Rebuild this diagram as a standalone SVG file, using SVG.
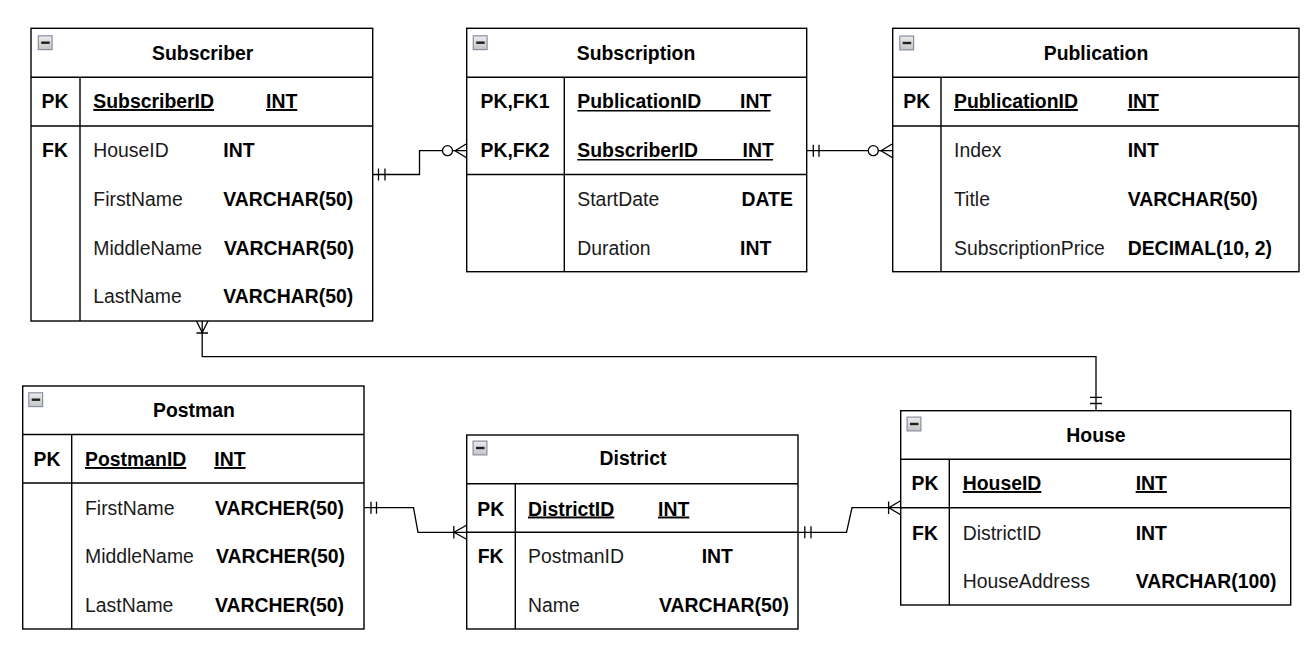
<svg xmlns="http://www.w3.org/2000/svg" width="1308" height="657" viewBox="0 0 1308 657">
<style>
.box{fill:#fff;stroke:#000;stroke-width:1.4}
.ln{stroke:#000;stroke-width:1.4;fill:none}
.cn{stroke:#000;stroke-width:1.3;fill:none}
.t{font-family:"Liberation Sans",Arial,sans-serif;font-size:19.4px;fill:#000}
.n{fill:#1a1a1a}
.b{font-weight:bold}
.m{text-anchor:middle}
.u{text-decoration:underline}
</style>
<defs>
<linearGradient id="ig" x1="0" y1="0" x2="0" y2="1">
<stop offset="0" stop-color="#ececec"/>
<stop offset="1" stop-color="#c4c4c4"/>
</linearGradient>
<g id="minus">
<rect x="0.6" y="0.6" width="13.8" height="13.8" fill="url(#ig)" stroke="#8790a3" stroke-width="1.2"/>
<rect x="3.5" y="6.3" width="8.5" height="2.4" fill="#1f1f1f"/>
</g>
</defs>

<g id="connectors">
<!-- Subscriber -> Subscription -->
<path class="cn" d="M372.7,174.5 H419.5 V150.7 H467"/>
<path class="cn" d="M378.5,168.5 V180.5 M385,168.5 V180.5"/>
<circle class="cn" cx="447.5" cy="150.7" r="5" style="fill:#fff"/>
<path class="cn" d="M467,143.5 L455,150.7 L467,158"/>
<!-- Subscription -> Publication -->
<path class="cn" d="M806.7,150.7 H893"/>
<path class="cn" d="M813.3,144.7 V156.7 M819,144.7 V156.7"/>
<circle class="cn" cx="873.3" cy="150.7" r="5" style="fill:#fff"/>
<path class="cn" d="M893,143.5 L881,150.7 L893,158"/>
<!-- House -> Subscriber -->
<path class="cn" d="M202.2,321 V356.7 H1096 V410.7"/>
<path class="cn" d="M196.5,321 L202.2,332.5 L208,321 M196.5,333 H208"/>
<path class="cn" d="M1090,397.3 H1102 M1090,403.5 H1102"/>
<!-- Postman -> District -->
<path class="cn" d="M364,507.7 H413.5 L418,532.3 H467"/>
<path class="cn" d="M371,501.7 V513.7 M376.5,501.7 V513.7"/>
<path class="cn" d="M453.8,526 V538.5 M467,525 L454,532.3 L467,539.5"/>
<!-- District -> House -->
<path class="cn" d="M798,532.3 H846.5 L852,507.7 H901"/>
<path class="cn" d="M804.8,526.3 V538.3 M811,526.3 V538.3"/>
<path class="cn" d="M888.6,501.5 V514 M901,500.5 L888.8,507.7 L901,515"/>
</g>

<g id="subscriber">
<rect class="box" x="31" y="28.3" width="341.7" height="292.7"/>
<path class="ln" d="M31,77.3 H372.7 M31,126 H372.7 M80,77.3 V321"/>
<use href="#minus" x="37.7" y="35.2"/>
<text class="t b m" x="202.7" y="60">Subscriber</text>
<text class="t b m" x="55" y="108">PK</text>
<text class="t b u" x="93.3" y="108">SubscriberID</text>
<text class="t b u" x="266" y="108">INT</text>
<text class="t b m" x="55" y="157">FK</text>
<text class="t n" x="93.3" y="157">HouseID</text>
<text class="t b" x="223.3" y="157">INT</text>
<text class="t n" x="93.3" y="205.5">FirstName</text>
<text class="t b" x="223.3" y="205.5">VARCHAR(50)</text>
<text class="t n" x="93.3" y="254.5">MiddleName</text>
<text class="t b" x="224" y="254.5">VARCHAR(50)</text>
<text class="t n" x="93.3" y="303">LastName</text>
<text class="t b" x="223.3" y="303">VARCHAR(50)</text>
</g>

<g id="subscription">
<rect class="box" x="466.7" y="28.3" width="340" height="243.4"/>
<path class="ln" d="M466.7,77.3 H806.7 M466.7,174.5 H806.7 M564.3,77.3 V271.7"/>
<use href="#minus" x="472.7" y="35.2"/>
<text class="t b m" x="636" y="60">Subscription</text>
<text class="t b m" x="515" y="108">PK,FK1</text>
<text class="t b" x="577.3" y="108">PublicationID</text>
<text class="t b" x="740" y="108">INT</text>
<path class="ln" d="M577.3,110.7 H770.5" stroke-width="1.3"/>
<text class="t b m" x="515" y="157">PK,FK2</text>
<text class="t b" x="577.3" y="157">SubscriberID</text>
<text class="t b" x="742.5" y="157">INT</text>
<path class="ln" d="M577.3,159.7 H773" stroke-width="1.3"/>
<text class="t n" x="577.3" y="205.5">StartDate</text>
<text class="t b" x="741.5" y="205.5">DATE</text>
<text class="t n" x="577.3" y="254.5">Duration</text>
<text class="t b" x="740" y="254.5">INT</text>
</g>

<g id="publication">
<rect class="box" x="892.7" y="28.3" width="406.3" height="243.4"/>
<path class="ln" d="M892.7,77.3 H1299 M892.7,126 H1299 M941,77.3 V271.7"/>
<use href="#minus" x="899.2" y="35.5"/>
<text class="t b m" x="1096" y="60">Publication</text>
<text class="t b m" x="916.7" y="108">PK</text>
<text class="t b u" x="954" y="108">PublicationID</text>
<text class="t b u" x="1127.7" y="108">INT</text>
<text class="t n" x="954" y="157">Index</text>
<text class="t b" x="1127.7" y="157">INT</text>
<text class="t n" x="954" y="205.5">Title</text>
<text class="t b" x="1127.7" y="205.5">VARCHAR(50)</text>
<text class="t n" x="954" y="254.5">SubscriptionPrice</text>
<text class="t b" x="1127.7" y="254.5">DECIMAL(10, 2)</text>
</g>

<g id="postman">
<rect class="box" x="22.7" y="386" width="341.3" height="243"/>
<path class="ln" d="M22.7,434.5 H364 M22.7,483 H364 M71.7,434.5 V629"/>
<use href="#minus" x="28.2" y="392.2"/>
<text class="t b m" x="194" y="417">Postman</text>
<text class="t b m" x="47" y="466">PK</text>
<text class="t b u" x="85" y="466">PostmanID</text>
<text class="t b u" x="214.3" y="466">INT</text>
<text class="t n" x="85" y="515">FirstName</text>
<text class="t b" x="215" y="515">VARCHER(50)</text>
<text class="t n" x="85" y="563">MiddleName</text>
<text class="t b" x="216" y="563">VARCHER(50)</text>
<text class="t n" x="85" y="611.7">LastName</text>
<text class="t b" x="215" y="611.7">VARCHER(50)</text>
</g>

<g id="district">
<rect class="box" x="466.7" y="435" width="331.3" height="194"/>
<path class="ln" d="M466.7,483.7 H798 M466.7,532.3 H798 M515.3,483.7 V629"/>
<use href="#minus" x="472.5" y="440.5"/>
<text class="t b m" x="633" y="465">District</text>
<text class="t b m" x="490.7" y="515.5">PK</text>
<text class="t b u" x="528" y="515.5">DistrictID</text>
<text class="t b u" x="658" y="515.5">INT</text>
<text class="t b m" x="490.7" y="563">FK</text>
<text class="t n" x="528" y="563">PostmanID</text>
<text class="t b" x="701.7" y="563">INT</text>
<text class="t n" x="528" y="611.7">Name</text>
<text class="t b" x="659" y="611.7">VARCHAR(50)</text>
</g>

<g id="house">
<rect class="box" x="900.7" y="410.7" width="390" height="194.3"/>
<path class="ln" d="M900.7,459.3 H1290.7 M900.7,507.7 H1290.7 M949.3,459.3 V605"/>
<use href="#minus" x="906.5" y="416.5"/>
<text class="t b m" x="1096" y="441.7">House</text>
<text class="t b m" x="925" y="490">PK</text>
<text class="t b u" x="962.7" y="490">HouseID</text>
<text class="t b u" x="1135.7" y="490">INT</text>
<text class="t b m" x="925" y="540">FK</text>
<text class="t n" x="962.7" y="540">DistrictID</text>
<text class="t b" x="1135.7" y="540">INT</text>
<text class="t n" x="962.7" y="588.3">HouseAddress</text>
<text class="t b" x="1135.7" y="588.3">VARCHAR(100)</text>
</g>
</svg>
